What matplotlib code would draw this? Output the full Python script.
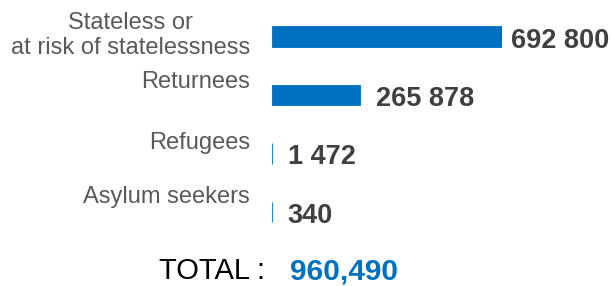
import matplotlib
matplotlib.use("Agg")
import matplotlib.pyplot as plt
import matplotlib.transforms as mtransforms

categories = ["Stateless or\nat risk of statelessness", "Returnees", "Refugees", "Asylum seekers"]
values = [692800, 265878, 1472, 340]
total = sum(values)

plt.rcParams['font.family'] = ['Liberation Sans', 'DejaVu Sans']

W, H = 612, 286
fig = plt.figure(figsize=(W / 100, H / 100), dpi=100)
fig.patch.set_facecolor('white')

# axes placement in pixels
x0, x1 = 272, 502
ytop, ybot = 36.5 - 29.25, 212 + 29.25
ax = fig.add_axes([x0 / W, 1 - ybot / H, (x1 - x0) / W, (ybot - ytop) / H])
ax.set_xlim(0, max(values))
ax.set_ylim(len(values) - 0.5, -0.5)
ax.axis('off')

blue = '#0070C0'
ypos = list(range(len(values)))
ax.barh(ypos, values, height=0.35, color=blue, edgecolor=blue, linewidth=0.6)

# value labels
val_gap_px = [9, 16, 16, 15]
for i, v in enumerate(values):
    tr = mtransforms.offset_copy(ax.transData, fig=fig, x=val_gap_px[i] * 72 / 100,
                                 y=-4 * 72 / 100, units='points')
    ax.text(v, i, format(v, ',').replace(',', ' '), transform=tr, ha='left', va='center',
            fontsize=19.5, fontweight='bold', color='#404040', clip_on=False)

# category labels
cat_dy_px = [-1, -13, -11, -15]
for i, c in enumerate(categories):
    base = ax.get_yaxis_transform()
    tr = mtransforms.offset_copy(base, fig=fig, x=-(x0 - 250) * 72 / 100,
                                 y=-cat_dy_px[i] * 72 / 100, units='points')
    ax.text(0, i, c, transform=tr, ha='right', va='center', multialignment='center',
            fontsize=17, color='#595959', clip_on=False, linespacing=1.2)

# total
fig.text(265 / W, 1 - 279 / H, 'TOTAL :', ha='right', va='baseline', fontsize=21, color='black')
fig.text(290 / W, 1 - 279 / H, format(total, ','), ha='left', va='baseline', fontsize=21.5,
         fontweight='bold', color=blue)

fig.savefig('out.png', dpi=100, facecolor='white')
